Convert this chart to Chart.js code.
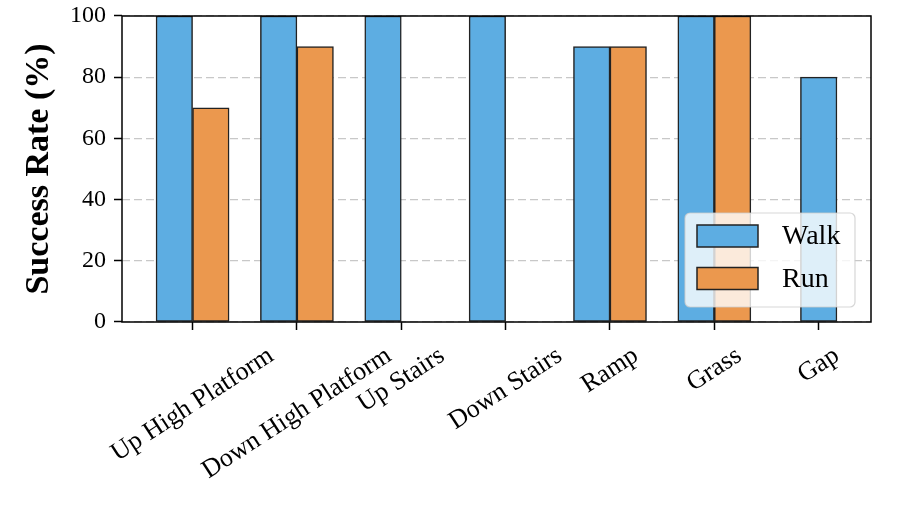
<!DOCTYPE html>
<html>
<head>
<meta charset="utf-8">
<script src="https://cdn.jsdelivr.net/npm/chart.js@4.4.0/dist/chart.umd.min.js"></script>
<style>
html,body{margin:0;padding:0;background:#fff;}
#wrap{width:897px;height:505px;position:relative;}
</style>
</head>
<body>
<div id="wrap"><canvas id="c"></canvas></div>
<script>
const categories = ['Up High Platform', 'Down High Platform', 'Up Stairs', 'Down Stairs', 'Ramp', 'Grass', 'Gap'];
const walkValues = [100, 100, 100, 100, 90, 100, 80];
const runValues = [70, 90, 0, 0, 90, 100, null];
const yTicks = [0, 20, 40, 60, 80, 100];
const seriesNames = ['Walk', 'Run'];
const seriesColors = ['#5DADE2', '#EB984E'];

const BAR_W = 0.35;
const walkData = categories.map((c, i) => ({ x: runValues[i] === null ? i : i - BAR_W / 2, y: walkValues[i] }));
const runData = categories.map((c, i) => runValues[i] === null ? null : ({ x: i + BAR_W / 2, y: runValues[i] })).filter(Boolean);
const dataMin = -BAR_W, dataMax = (categories.length - 1) + BAR_W / 2;
const margin = 0.05 * (dataMax - dataMin);

Chart.defaults.font.family = "'Liberation Serif', 'Times New Roman', serif";
Chart.defaults.color = '#000';

const framePlugin = {
  id: 'frame',
  afterDatasetsDraw(chart) {
    const { ctx, chartArea: a } = chart;
    ctx.save();
    ctx.strokeStyle = '#000';
    ctx.lineWidth = 1.5;
    ctx.strokeRect(a.left, a.top, a.right - a.left, a.bottom - a.top);
    ctx.restore();
  }
};

const xLabelPlugin = {
  id: 'xlabels',
  afterDraw(chart) {
    const { ctx, chartArea: a } = chart;
    const xs = chart.scales.x;
    const fs = 26;
    const ang = 33 * Math.PI / 180;
    ctx.save();
    ctx.font = fs + "px 'Liberation Serif', serif";
    ctx.fillStyle = '#000';
    ctx.textAlign = 'center';
    ctx.textBaseline = 'middle';
    categories.forEach((lab, i) => {
      const L = ctx.measureText(lab).width;
      const h = fs * 1.15;
      const bh = L * Math.sin(ang) + h * Math.cos(ang);
      const cx = xs.getPixelForValue(i);
      const cy = a.bottom + 19 + bh / 2;
      ctx.save();
      ctx.translate(cx, cy);
      ctx.rotate(-ang);
      ctx.fillText(lab, 0, 0);
      ctx.restore();
    });
    ctx.restore();
  }
};

const legendPlugin = {
  id: 'boxlegend',
  afterDraw(chart) {
    const { ctx, chartArea: a } = chart;
    const bw = 170, bh = 94;
    const x0 = a.right - 16 - bw, y0 = a.bottom - 15 - bh;
    ctx.save();
    ctx.beginPath();
    ctx.roundRect(x0, y0, bw, bh, 5);
    ctx.fillStyle = 'rgba(255,255,255,0.8)';
    ctx.fill();
    ctx.strokeStyle = 'rgba(204,204,204,0.8)';
    ctx.lineWidth = 1.2;
    ctx.stroke();
    chart.data.datasets.forEach((ds, k) => {
      const hy = y0 + 12 + k * 42.5;
      ctx.fillStyle = ds.backgroundColor;
      ctx.fillRect(x0 + 12, hy, 61, 22);
      ctx.strokeStyle = '#222';
      ctx.lineWidth = 1.5;
      ctx.strokeRect(x0 + 12, hy, 61, 22);
      ctx.fillStyle = '#000';
      ctx.font = "28px 'Liberation Serif', serif";
      ctx.textAlign = 'left';
      ctx.textBaseline = 'middle';
      ctx.fillText(ds.label, x0 + 97, hy + 12);
    });
    ctx.restore();
  }
};

new Chart(document.getElementById('c'), {
  type: 'bar',
  data: {
    datasets: [
      { label: seriesNames[0], data: walkData, backgroundColor: seriesColors[0], borderColor: '#222', borderWidth: 1.5, borderSkipped: false, grouped: false, categoryPercentage: 1, barPercentage: 1 },
      { label: seriesNames[1], data: runData, backgroundColor: seriesColors[1], borderColor: '#222', borderWidth: 1.5, borderSkipped: false, grouped: false, categoryPercentage: 1, barPercentage: 1 }
    ]
  },
  options: {
    responsive: true,
    maintainAspectRatio: false,
    animation: false,
    devicePixelRatio: 1,
    layout: { padding: { top: 16, right: 26, left: 0, bottom: 0 } },
    plugins: { legend: { display: false }, tooltip: { enabled: false } },
    scales: {
      x: {
        type: 'linear',
        offset: false,
        min: dataMin - margin,
        max: dataMax + margin,
        afterBuildTicks: (s) => { s.ticks = categories.map((c, i) => ({ value: i })); },
        afterFit: (s) => { s.height = 505 - 322; s.paddingLeft = 0; s.paddingRight = 0; },
        ticks: { display: false },
        grid: { offset: false, drawOnChartArea: false, drawTicks: true, tickLength: 8, tickColor: '#000', tickWidth: 1.5, color: '#000' },
        border: { display: false }
      },
      y: {
        min: 0,
        max: 100,
        afterBuildTicks: (s) => { s.ticks = yTicks.map(v => ({ value: v })); },
        afterFit: (s) => { s.width = 122; s.paddingTop = 0; s.paddingBottom = 0; },
        ticks: { font: { size: 24 }, padding: 8, color: '#000' },
        grid: { color: '#c8c8c8', lineWidth: 1.2, tickColor: '#000', tickWidth: 1.5, tickLength: 8, tickBorderDash: [1, 0] },
        border: { display: false, dash: [8, 4] },
        title: { display: true, text: 'Success Rate (%)', font: { size: 34, weight: 'bold', lineHeight: 1 }, padding: { top: 22, bottom: 0 }, color: '#000' }
      }
    }
  },
  plugins: [framePlugin, xLabelPlugin, legendPlugin]
});
</script>
</body>
</html>
